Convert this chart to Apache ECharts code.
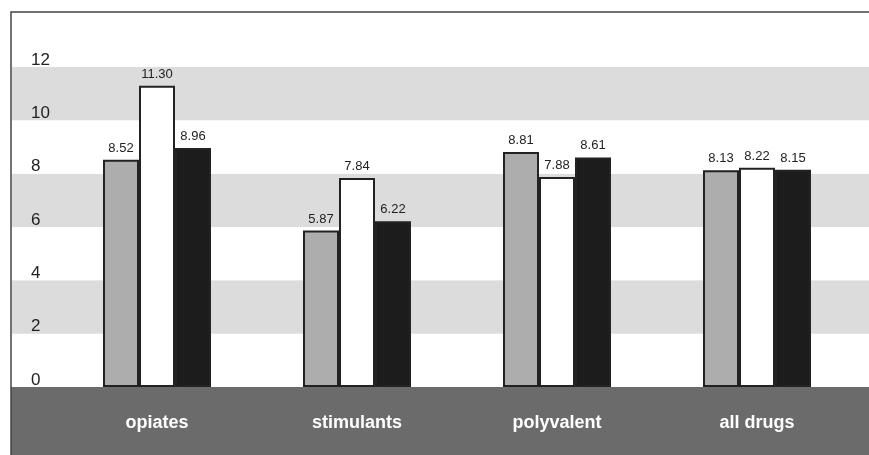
<!DOCTYPE html>
<html>
<head>
<meta charset="utf-8">
<script src="https://cdn.jsdelivr.net/npm/echarts@6/dist/echarts.min.js"></script>
<style>
  html, body { margin: 0; padding: 0; background: #fff; }
  #chart { width: 869px; height: 455px; }
</style>
</head>
<body>
<div id="chart"></div>
<script>
// Categories and the three series of values
const categories = ['opiates', 'stimulants', 'polyvalent', 'all drugs'];
const greyValues = [8.52, 5.87, 8.81, 8.13];
const whiteValues = [11.30, 7.84, 7.88, 8.22];
const blackValues = [8.96, 6.22, 8.61, 8.15];
// Labelled ticks on the value axis
const yTickLabels = [0, 2, 4, 6, 8, 10, 12];

const Y_MIN = 0, Y_MAX = 14, Y_STEP = 2;
const FONT = '"Liberation Sans", Arial, Helvetica, sans-serif';

const chart = echarts.init(document.getElementById('chart'), null, { renderer: 'canvas' });

const plotTop = 13.7;
const plotBottom = 68;

function barSeries(name, values, fill) {
  return {
    name: name,
    type: 'bar',
    xAxisIndex: 1,
    yAxisIndex: 1,
    data: values,
    barWidth: 36,
    barGap: '0%',
    itemStyle: { color: fill, borderColor: '#222', borderWidth: 2 },
    label: {
      show: true,
      position: 'top',
      distance: 5,
      color: '#222',
      fontFamily: FONT,
      fontSize: 13,
      formatter: p => p.value.toFixed(2)
    }
  };
}

chart.setOption({
  backgroundColor: '#fff',
  animation: false,
  grid: [
    // background stripes and value labels
    { left: 12, right: 0, top: plotTop, bottom: plotBottom },
    // bars
    { left: 57, right: 12, top: plotTop, bottom: plotBottom }
  ],
  xAxis: [
    { type: 'value', gridIndex: 0, show: false, min: 0, max: 1 },
    {
      type: 'category',
      gridIndex: 1,
      data: categories,
      axisLine: { show: false },
      axisTick: { show: false },
      axisLabel: {
        margin: 27,
        color: '#fff',
        fontFamily: FONT,
        fontWeight: 'bold',
        fontSize: 18
      }
    }
  ],
  yAxis: [
    {
      type: 'value',
      gridIndex: 0,
      min: Y_MIN,
      max: Y_MAX,
      interval: Y_STEP,
      axisLine: { show: false },
      axisTick: { show: false },
      splitLine: { show: false },
      splitArea: { show: true, areaStyle: { color: ['#ffffff', '#dcdcdc'] } },
      axisLabel: {
        inside: true,
        margin: 19,
        align: 'left',
        verticalAlign: 'bottom',
        lineHeight: 14,
        color: '#222',
        fontFamily: FONT,
        fontSize: 17,
        formatter: v => (yTickLabels.indexOf(v) >= 0 ? String(v) : '')
      }
    },
    {
      type: 'value',
      gridIndex: 1,
      min: Y_MIN,
      max: Y_MAX,
      interval: Y_STEP,
      show: false
    }
  ],
  graphic: [
    {
      type: 'rect',
      z: -10,
      shape: { x: 11, y: 387, width: 858, height: 68 },
      style: { fill: '#6b6b6b' }
    },
    {
      type: 'polyline',
      z: 100,
      shape: { points: [[11, 455], [11, 12], [869, 12]] },
      style: { fill: null, stroke: '#444', lineWidth: 1.5 }
    }
  ],
  series: [
    barSeries('grey', greyValues, '#adadad'),
    barSeries('white', whiteValues, '#ffffff'),
    barSeries('black', blackValues, '#1c1c1c')
  ]
});
</script>
</body>
</html>
